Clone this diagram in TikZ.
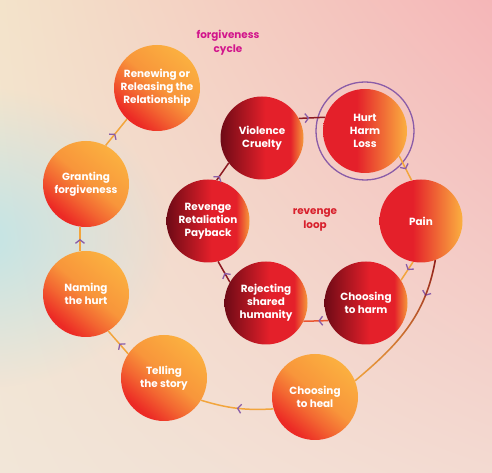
\documentclass[tikz,border=0pt]{standalone}
\usepackage{fontspec}
\setmainfont{Poppins}
\usetikzlibrary{arrows.meta, decorations.markings, shadings, fadings}
\definecolor{BgCream}{HTML}{F3E3CA}
\definecolor{BgPink}{HTML}{F5B6B8}
\definecolor{BgLow}{HTML}{F2E6D8}
\definecolor{BgLowPink}{HTML}{F3DAD1}
\definecolor{GlowBlue}{HTML}{C2E4E6}
\definecolor{FcOrange}{HTML}{FBB040}
\definecolor{FcRed}{HTML}{EC2A25}
\definecolor{RlDark}{HTML}{6E0A16}
\definecolor{RlRed}{HTML}{E4202A}
\definecolor{RlOrange}{HTML}{F59A3A}
\definecolor{LinkOrange}{HTML}{F2A53C}
\definecolor{LinkDark}{HTML}{8C1A22}
\definecolor{TipPurple}{HTML}{8A5CA8}
\definecolor{CycleMagenta}{HTML}{D2168C}
\definecolor{LoopRed}{HTML}{D8202C}
\pgfdeclarehorizontalshading{fcshade}{100bp}{color(0bp)=(FcRed); color(27bp)=(FcRed);
  color(40bp)=(FcRed!55!FcOrange); color(52bp)=(FcRed!20!FcOrange); color(75bp)=(FcOrange); color(100bp)=(FcOrange)}
\pgfdeclarehorizontalshading{rlshade}{100bp}{color(0bp)=(RlDark); color(25bp)=(RlDark);
  color(52bp)=(RlRed); color(67bp)=(RlRed); color(75bp)=(RlOrange); color(100bp)=(RlOrange)}
\pgfdeclarehorizontalshading{hurtshade}{100bp}{color(0bp)=(RlRed); color(25bp)=(RlRed);
  color(45bp)=(RlRed); color(75bp)=(FcOrange); color(100bp)=(FcOrange)}
\tikzfading[name=glow_fade, inner color=transparent!0, outer color=transparent!100]

\begin{document}
\begin{tikzpicture}[x=1pt, y=1pt,
  base_node/.style={circle, inner sep=0pt, text=white, align=center,
    font=\bfseries\fontsize{10.4}{12.9}\selectfont},
  fc_node/.style={base_node, minimum size=86pt, shading=fcshade, shading angle=50},
  rl_node/.style={base_node, minimum size=83pt, shading=rlshade},
  hurt_node/.style={base_node, minimum size=84pt, shading=hurtshade},
  link_orange/.style={draw=LinkOrange, line width=1.5pt},
  link_dark/.style={draw=LinkDark, line width=1.5pt},
  mid_tip/.style={postaction={decorate, decoration={markings,
    mark=at position #1 with {\arrow{Straight Barb[length=3.5pt, width=9pt, line width=1.3pt, color=TipPurple]}}}}},
  cycle_label/.style={align=center, font=\bfseries\fontsize{10.4}{13.8}\selectfont},
]
  % background
  \useasboundingbox (0,0) rectangle (492,473);
  \shade[upper left=BgCream, upper right=BgPink, lower left=BgLow, lower right=BgLowPink]
    (0,0) rectangle (492,473);
  \begin{scope}
    \clip (0,0) rectangle (492,473);
    \fill[GlowBlue, path fading=glow_fade] (-20,235) ellipse (190 and 150);
  \end{scope}

  % forgiveness cycle
  \foreach \n/\x/\y/\t in {renew/157/385/{Renewing or\\Releasing the\\Relationship},
      grant/86/289/{Granting\\forgiveness}, name/86/179/{Naming\\the hurt},
      tell/164/95/{Telling\\the story}, heal/315/76/{Choosing\\to heal}}
    \node[fc_node] (\n) at (\x,\y) {\t};

  % revenge loop
  \foreach \n/\x/\y/\t in {violence/262/335/{Violence\\Cruelty},
      revenge/208/252/{Revenge\\Retaliation\\Payback}, reject/266/170/{Rejecting\\shared\\humanity},
      harm/366/170/{Choosing\\to harm}}
    \node[rl_node] (\n) at (\x,\y) {\t};
  \node[hurt_node] (hurt) at (365,342) {Hurt\\Harm\\Loss};
  \node[hurt_node, minimum size=83pt] (pain) at (421,252) {Pain};
  \node[circle, draw=TipPurple, line width=1.3pt, minimum size=98pt] (ring) at (hurt) {};

  \node[cycle_label, text=CycleMagenta] (fclabel) at (228,430) {forgiveness\\cycle};
  \node[cycle_label, text=LoopRed] (rllabel) at (315,253) {revenge\\loop};

  % connectors
  \foreach \a/\b/\p in {hurt.-36/pain.103/0.55, pain.-101/harm.33/0.45, tell.146/name.-59/0.45,
      name.98/grant.-98/0.5, grant.63/renew.-134/0.45}
    \draw[link_orange, mid_tip=\p] (\a) -- (\b);
  \foreach \a/\b/\p in {reject.150/revenge.-76/0.45, revenge.78/violence.-143/0.25,
      violence.28/hurt.161/0.4}
    \draw[link_dark, mid_tip=\p] (\a) -- (\b);
  \draw[link_orange, draw=RlRed!60!LinkOrange, mid_tip=0.4] (harm.-155) -- (reject.-26);
  \draw[link_orange, mid_tip=0.25] (pain.-70) to[out=-100, in=40] (heal.22);
  \draw[link_dark, path fading=south] (pain.-70) to[out=-100, in=40] (heal.22);
  \draw[link_orange, mid_tip=0.5] (heal.-164) to[bend left=10] (tell.-31);
\end{tikzpicture}
\end{document}
